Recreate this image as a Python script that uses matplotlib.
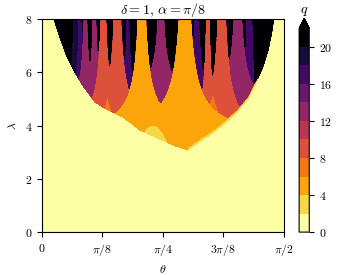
import numpy as np
import matplotlib
matplotlib.use("Agg")
import matplotlib.pyplot as plt

plt.rcParams["mathtext.fontset"] = "cm"
plt.rcParams["font.family"] = "serif"
plt.rcParams["font.size"] = 8.5

# lower boundary of the structured region (theta in rad, lambda)
edge_theta = [0.013, 0.078, 0.117, 0.162, 0.214, 0.266, 0.344, 0.409, 0.526,
              0.636, 0.746, 0.850, 0.947, 1.025, 1.090, 1.175, 1.265, 1.337,
              1.389, 1.434, 1.467, 1.492, 1.505, 1.544]
edge_lam = [9.5, 8.0, 7.3, 6.6, 6.0, 5.5, 4.88, 4.64, 4.32,
            3.83, 3.54, 3.27, 3.08, 3.4, 3.65, 4.02, 4.5, 5.0,
            5.6, 6.2, 6.8, 7.5, 8.0, 9.5]

# tongues hanging from the top: centre, q, half width at lambda=8, lambda where they spread
tongue_theta = [0.649, 0.928, 0.399, 0.490, 1.077, 1.168, 0.772, 0.282,
                0.341, 1.272, 0.217, 0.247, 1.346, 0.558, 1.006]
tongue_q = [5, 5, 9, 9, 9, 9, 13, 13, 13, 13, 19, 17, 17, 17, 17]
tongue_w = [0.032, 0.045, 0.023, 0.029, 0.016, 0.032, 0.026, 0.016,
            0.016, 0.032, 0.016, 0.013, 0.023, 0.013, 0.019]
tongue_lam0 = [3.72, 3.6, 3.8, 3.8, 3.5, 3.5, 5.0, 4.5,
               4.5, 4.5, 4.5, 4.5, 2.0, 4.5, 4.5]

# bumps rising from the lower boundary: centre, q, tip lambda, width, shape
bump_theta = [0.425, 1.110, 0.720]
bump_q = [7, 7, 3]
bump_tip = [5.1, 5.22, 4.02]
bump_w = [0.052, 0.052, 0.12]
bump_pow = [1.0, 1.0, 0.5]

# thin q=3 strip along the right part of the boundary
strip_theta = (0.947, 1.40)
strip_width = 0.1

levels = np.arange(0, 23, 2)
cbar_ticks = [0, 4, 8, 12, 16, 20]

theta = np.linspace(0, np.pi / 2, 900)
lam = np.linspace(0, 8, 600)
T, L = np.meshgrid(theta, lam)
Q = np.full(T.shape, 23.0)

for c, q, w, l0 in zip(tongue_theta, tongue_q, tongue_w, tongue_lam0):
    half = np.where(L > l0, w * (8 - l0) / np.maximum(L - l0, 1e-6), np.inf)
    Q = np.where(np.abs(T - c) < half, np.minimum(Q, q), Q)

for c, q, tip, w, p in zip(bump_theta, bump_q, bump_tip, bump_w, bump_pow):
    half = w * np.clip(tip - L, 0, None) ** p
    Q = np.where(np.abs(T - c) < half, np.minimum(Q, q), Q)

edge = np.interp(theta, edge_theta, edge_lam)[None, :]
strip = (T > strip_theta[0]) & (T < strip_theta[1]) & (L < edge + strip_width)
Q = np.where(strip, np.minimum(Q, 3), Q)
Q = np.where(L < edge, 1.0, Q)

fig = plt.figure(figsize=(3.38, 2.75), dpi=100)
ax = fig.add_axes([0.124, 0.156, 0.716, 0.775])
cs = ax.contourf(T, L, Q, levels=levels, cmap="inferno_r", extend="max",
                 vmin=1, vmax=21)

ax.set_xlim(0, np.pi / 2)
ax.set_ylim(0, 8)
ax.set_xticks([0, np.pi / 8, np.pi / 4, 3 * np.pi / 8, np.pi / 2])
ax.set_xticklabels([r"$0$", r"$\pi/8$", r"$\pi/4$", r"$3\pi/8$", r"$\pi/2$"])
ax.set_yticks([0, 2, 4, 6, 8])
ax.set_yticklabels([r"$0$", r"$2$", r"$4$", r"$6$", r"$8$"])
ax.set_xlabel(r"$\theta$")
ax.set_ylabel(r"$\lambda$")
ax.set_title(r"$\delta=1,\,\alpha=\pi/8$", pad=3)

cax = fig.add_axes([0.885, 0.156, 0.030, 0.778])
cbar = fig.colorbar(cs, cax=cax, ticks=cbar_ticks)
cbar.set_ticklabels([rf"${t}$" for t in cbar_ticks])
cax.set_title(r"$q$", pad=3)

fig.savefig("out.png", dpi=100)
